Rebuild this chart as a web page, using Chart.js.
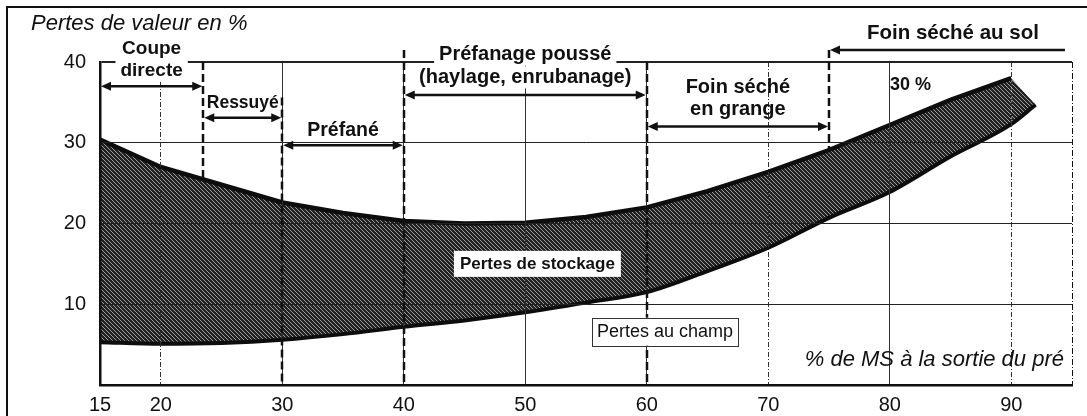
<!DOCTYPE html>
<html lang="fr">
<head>
<meta charset="utf-8">
<title>Pertes de valeur</title>
<script src="https://cdn.jsdelivr.net/npm/chart.js@4.4.0/dist/chart.umd.min.js"></script>
<style>
  html, body { margin: 0; padding: 0; background: #fff; }
</style>
</head>
<body>
<canvas id="chart" width="1087" height="416"></canvas>
<script>
// % de MS à la sortie du pré
const msValues = [15, 20, 25, 30, 35, 40, 45, 50, 55, 60, 65, 70, 75, 80, 85, 90, 92];
// bas de la bande : pertes au champ
const pertesChamp = [5.3, 5.1, 5.2, 5.6, 6.3, 7.2, 8.0, 9.0, 10.2, 11.5, 14.1, 17.0, 20.7, 23.9, 28.3, 32.3, 34.7];
// haut de la bande : pertes au champ + pertes de stockage
const pertesTotales = [30.4, 27.0, 24.8, 22.6, 21.3, 20.3, 20.0, 20.1, 20.8, 22.0, 24.0, 26.4, 29.1, 32.2, 35.3, 38.0, 34.7];
const xTicks = [15, 20, 30, 40, 50, 60, 70, 80, 90];
const yTicks = [10, 20, 30, 40];

const FONT = "'Liberation Sans', Arial, Helvetica, sans-serif";

// limites entre les modes de récolte
const limites = [
  { x: 23.5, haut: 40, jusquAuSol: false },
  { x: 30, haut: 35.6, jusquAuSol: true },
  { x: 40, haut: 41.5, jusquAuSol: true },
  { x: 60, haut: 40, jusquAuSol: true },
  { x: 75, haut: 41.5, jusquAuSol: false }
];

const fleches = [
  { de: 15, a: 23.5, y: 37.0, g: true, d: true },
  { de: 23.5, a: 30, y: 33.1, g: true, d: true },
  { de: 30, a: 40, y: 29.7, g: true, d: true },
  { de: 40, a: 60, y: 35.9, g: true, d: true },
  { de: 60, a: 75, y: 32.0, g: true, d: true },
  { de: 75, a: 94.5, y: 41.5, g: true, d: false }
];

const textes = [
  { t: 'Coupe', x: 19.25, y: 41.7, taille: 19, fond: true },
  { t: 'directe', x: 19.25, y: 38.9, taille: 19, fond: true },
  { t: 'Ressuyé', x: 26.75, y: 34.9, taille: 17.5 },
  { t: 'Préfané', x: 35, y: 31.5, taille: 19.5 },
  { t: 'Préfanage poussé', x: 50, y: 40.9, fond: true },
  { t: '(haylage, enrubanage)', x: 50, y: 38.1, fond: true },
  { t: 'Foin séché', x: 67.5, y: 36.9 },
  { t: 'en grange', x: 67.5, y: 34.1 },
  { t: 'Foin séché au sol', x: 85.2, y: 43.6, taille: 20.5 },
  { t: '30 %', x: 81.7, y: 37.2, taille: 18 }
];

function motif() {
  const c = document.createElement('canvas');
  c.width = 4; c.height = 4;
  const g = c.getContext('2d');
  g.fillStyle = '#222';
  g.fillRect(0, 0, 4, 4);
  g.fillStyle = '#9a9a9a';
  for (let i = 0; i < 4; i++) g.fillRect(i, i, 1, 1);
  return g.createPattern(c, 'repeat');
}

function valeurHaute(v) {
  for (let i = 1; i < msValues.length; i++) {
    if (v <= msValues[i]) {
      const k = (v - msValues[i - 1]) / (msValues[i] - msValues[i - 1]);
      return pertesTotales[i - 1] + k * (pertesTotales[i] - pertesTotales[i - 1]);
    }
  }
  return pertesTotales[pertesTotales.length - 1];
}

function pointe(ctx, x, y, sens) {
  ctx.beginPath();
  ctx.moveTo(x, y);
  ctx.lineTo(x - sens * 10, y - 4.5);
  ctx.lineTo(x - sens * 10, y + 4.5);
  ctx.closePath();
  ctx.fill();
}

const decor = {
  id: 'decor',
  afterDraw(chart) {
    const { ctx, chartArea: a, scales: { x, y } } = chart;
    ctx.save();

    // cadre extérieur
    ctx.strokeStyle = '#111';
    ctx.lineWidth = 2;
    ctx.beginPath();
    ctx.moveTo(7, 416);
    ctx.lineTo(7, 7);
    ctx.lineTo(1087, 7);
    ctx.stroke();

    // bord droit du graphique
    ctx.lineWidth = 1;
    ctx.setLineDash([6, 2, 1, 2]);
    ctx.beginPath();
    ctx.moveTo(a.right + 0.5, a.top);
    ctx.lineTo(a.right + 0.5, a.bottom);
    ctx.stroke();

    // limites entre modes de récolte
    ctx.lineWidth = 2.5;
    ctx.setLineDash([8, 4]);
    limites.forEach(l => {
      const px = Math.round(x.getPixelForValue(l.x));
      const bas = l.jusquAuSol ? 0 : valeurHaute(l.x);
      ctx.beginPath();
      ctx.moveTo(px, y.getPixelForValue(l.haut));
      ctx.lineTo(px, y.getPixelForValue(bas));
      ctx.stroke();
    });
    ctx.setLineDash([]);

    // flèches
    ctx.fillStyle = '#111';
    ctx.lineWidth = 2.5;
    fleches.forEach(f => {
      const x1 = x.getPixelForValue(f.de) + 1;
      const x2 = x.getPixelForValue(f.a) - 1;
      const py = y.getPixelForValue(f.y);
      ctx.beginPath();
      ctx.moveTo(x1 + (f.g ? 6 : 0), py);
      ctx.lineTo(x2 - (f.d ? 6 : 0), py);
      ctx.stroke();
      if (f.g) pointe(ctx, x1, py, -1);
      if (f.d) pointe(ctx, x2, py, 1);
    });

    // titres des périodes
    ctx.textAlign = 'center';
    ctx.textBaseline = 'middle';
    textes.forEach(t => {
      ctx.font = `bold ${t.taille || 20}px ${FONT}`;
      const px = x.getPixelForValue(t.x);
      const py = y.getPixelForValue(t.y);
      if (t.fond) {
        const w = ctx.measureText(t.t).width;
        ctx.fillStyle = '#fff';
        ctx.fillRect(px - w / 2 - 5, py - 11, w + 10, 22);
      }
      ctx.fillStyle = '#111';
      ctx.fillText(t.t, px, py);
    });

    // étiquettes dans la bande
    ctx.font = `bold 17px ${FONT}`;
    let px = x.getPixelForValue(51);
    let py = y.getPixelForValue(15.0);
    let w = ctx.measureText('Pertes de stockage').width;
    ctx.fillStyle = '#fff';
    ctx.fillRect(px - w / 2 - 6, py - 13, w + 12, 26);
    ctx.fillStyle = '#111';
    ctx.fillText('Pertes de stockage', px, py);

    ctx.font = `18px ${FONT}`;
    px = x.getPixelForValue(61.5);
    py = y.getPixelForValue(6.6);
    w = ctx.measureText('Pertes au champ').width;
    ctx.fillStyle = '#fff';
    ctx.fillRect(px - w / 2 - 5, py - 14, w + 10, 28);
    ctx.strokeStyle = '#333';
    ctx.lineWidth = 1;
    ctx.strokeRect(Math.round(px - w / 2 - 5) + 0.5, Math.round(py - 14) + 0.5, Math.round(w + 10), 28);
    ctx.fillStyle = '#111';
    ctx.fillText('Pertes au champ', px, py);

    // titres des axes
    ctx.font = `italic 22px ${FONT}`;
    ctx.textAlign = 'right';
    ctx.fillText('% de MS à la sortie du pré', a.right - 8, y.getPixelForValue(3.1));
    ctx.textAlign = 'left';
    ctx.fillText('Pertes de valeur en %', 31, 24);

    ctx.restore();
  }
};

const ctx = document.getElementById('chart');
new Chart(ctx, {
  type: 'line',
  data: {
    datasets: [
      {
        label: 'Pertes au champ',
        data: msValues.map((v, i) => ({ x: v, y: pertesChamp[i] })),
        borderColor: '#0d0d0d',
        borderWidth: 4,
        pointRadius: 0,
        cubicInterpolationMode: 'monotone',
        fill: false
      },
      {
        label: 'Pertes de stockage',
        data: msValues.map((v, i) => ({ x: v, y: pertesTotales[i] })),
        borderColor: '#0d0d0d',
        borderWidth: 4.5,
        pointRadius: 0,
        tension: 0,
        backgroundColor: motif(),
        fill: '-1',
        segment: {
          borderColor: c => c.p1DataIndex === msValues.length - 1 ? 'rgba(0,0,0,0)' : undefined
        }
      }
    ]
  },
  options: {
    responsive: false,
    animation: false,
    devicePixelRatio: 1,
    layout: { padding: { top: 62, right: 15, left: 0, bottom: 0 } },
    plugins: { legend: { display: false }, tooltip: { enabled: false } },
    scales: {
      x: {
        type: 'linear',
        min: 15,
        max: 95,
        afterBuildTicks: s => { s.ticks = xTicks.map(v => ({ value: v })); },
        afterFit: s => { s.height = 31; },
        ticks: { color: '#111', font: { family: FONT, size: 20 }, padding: 8, maxRotation: 0 },
        grid: {
          z: 1,
          drawTicks: false,
          color: c => (c.tick && c.tick.value === 15) ? 'rgba(0,0,0,0)' : '#333',
          lineWidth: 1
        },
        border: {
          z: 1,
          color: '#111',
          width: 2.5,
          dash: c => (c.tick && [20, 70, 90].includes(c.tick.value)) ? [5, 2, 1, 2] : []
        }
      },
      y: {
        min: 0,
        max: 40,
        afterBuildTicks: s => { s.ticks = yTicks.map(v => ({ value: v })); },
        afterFit: s => { s.width = 100; },
        ticks: { color: '#111', font: { family: FONT, size: 20 }, padding: 14 },
        grid: {
          z: 1,
          drawTicks: false,
          color: '#222',
          lineWidth: c => (c.tick && c.tick.value === 40) ? 2 : 1
        },
        border: { z: 1, color: '#111', width: 2.5 }
      }
    }
  },
  plugins: [decor]
});
</script>
</body>
</html>
